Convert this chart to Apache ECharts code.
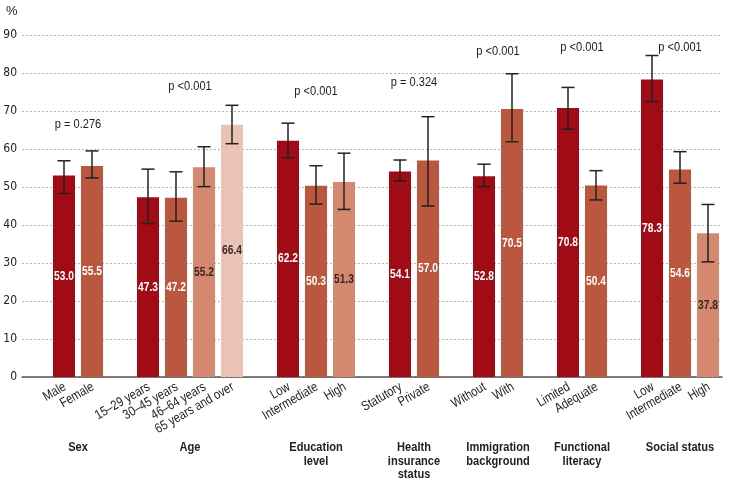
<!DOCTYPE html>
<html>
<head>
<meta charset="utf-8">
<script src="https://cdn.jsdelivr.net/npm/echarts@6/dist/echarts.min.js"></script>
<style>html,body{margin:0;padding:0;background:#fff}#c{width:731px;height:485px}</style>
</head>
<body>
<div id="c"></div>
<script>
const groupNames = ['Sex', 'Age', 'Education\nlevel', 'Health\ninsurance\nstatus', 'Immigration\nbackground', 'Functional\nliteracy', 'Social status'];
const groupSizes = [2, 4, 3, 2, 2, 2, 3];
const pValues = ['p = 0.276', 'p <0.001', 'p <0.001', 'p = 0.324', 'p <0.001', 'p <0.001', 'p <0.001'];
const categories = ['Male', 'Female', '15–29 years', '30–45 years', '46–64 years', '65 years and over', 'Low', 'Intermediate', 'High', 'Statutory', 'Private', 'Without', 'With', 'Limited', 'Adequate', 'Low', 'Intermediate', 'High'];
const values = [53.0, 55.5, 47.3, 47.2, 55.2, 66.4, 62.2, 50.3, 51.3, 54.1, 57.0, 52.8, 70.5, 70.8, 50.4, 78.3, 54.6, 37.8];
const ciLow = [48.3, 52.4, 40.4, 41.0, 50.1, 61.4, 57.7, 45.5, 44.1, 51.6, 45.0, 50.1, 61.9, 65.2, 46.6, 72.5, 51.0, 30.3];
const ciHigh = [56.9, 59.5, 54.7, 54.0, 60.6, 71.5, 66.8, 55.6, 58.9, 57.1, 68.5, 56.0, 79.8, 76.2, 54.3, 84.6, 59.3, 45.4];
const yTicks = [0, 10, 20, 30, 40, 50, 60, 70, 80, 90];

// layout / style constants
const pLabelLevel = [66.6, 76.4, 75.3, 77.6, 85.6, 86.8, 86.8];
const shadeColors = ['#a00b16', '#bb563f', '#d3886f', '#ebc3b4'];
const shadeText = ['#ffffff', '#ffffff', '#3b2626', '#3b2626'];
const FONT = '"Liberation Sans", Arial, sans-serif';
const NARROW = 0.82;

// build axis with blank separator slots
const axisCats = [''];
const barData = ['-'];
const errData = [];
const valLabelData = [];
const xLabelData = [];
const groupSlots = [];
let k = 0;
groupSizes.forEach((n, g) => {
  if (g > 0) { axisCats.push(''); barData.push('-'); }
  const slots = [];
  for (let i = 0; i < n; i++) {
    const idx = axisCats.length;
    axisCats.push(categories[k]);
    barData.push({ value: values[k], itemStyle: { color: shadeColors[i] } });
    errData.push([idx, ciLow[k], ciHigh[k]]);
    valLabelData.push([idx, values[k], i]);
    xLabelData.push([idx, k]);
    slots.push(idx);
    k++;
  }
  groupSlots.push(slots);
});

const chart = echarts.init(document.getElementById('c'), null, { renderer: 'canvas' });
chart.setOption({
  animation: false,
  grid: { left: 22, right: 9, top: 35, bottom: 108, containLabel: false },
  xAxis: {
    type: 'category',
    data: axisCats,
    axisTick: { show: false },
    axisLine: { lineStyle: { color: '#555', width: 1.5 } },
    axisLabel: { show: false }
  },
  yAxis: {
    type: 'value', min: yTicks[0], max: yTicks[yTicks.length - 1], interval: 10,
    axisLine: { show: false }, axisTick: { show: false },
    axisLabel: { fontFamily: '"DejaVu Sans Condensed", "Liberation Sans", sans-serif', fontSize: 12, color: '#222', margin: 5 },
    splitLine: { lineStyle: { color: '#b5b5b5', type: [2, 2], width: 1 } }
  },
  series: [
    { type: 'bar', data: barData, barWidth: 22 },
    {
      type: 'custom', data: errData, z: 5,
      renderItem: function (params, api) {
        const x = api.value(0);
        const lo = api.coord([x, api.value(1)]);
        const hi = api.coord([x, api.value(2)]);
        const w = 6.5;
        const st = { stroke: '#222', lineWidth: 1.5 };
        return {
          type: 'group', children: [
            { type: 'line', shape: { x1: lo[0], y1: lo[1], x2: hi[0], y2: hi[1] }, style: st },
            { type: 'line', shape: { x1: lo[0] - w, y1: lo[1], x2: lo[0] + w, y2: lo[1] }, style: st },
            { type: 'line', shape: { x1: hi[0] - w, y1: hi[1], x2: hi[0] + w, y2: hi[1] }, style: st }
          ]
        };
      }
    },
    {
      type: 'custom', data: valLabelData, z: 6,
      renderItem: function (params, api) {
        const v = api.value(1);
        const p = api.coord([api.value(0), v / 2]);
        return {
          type: 'text', x: p[0], y: p[1], scaleX: NARROW,
          style: {
            text: v.toFixed(1), textAlign: 'center', textVerticalAlign: 'middle',
            fontFamily: FONT, fontWeight: 'bold', fontSize: 12.5, fill: shadeText[api.value(2)]
          }
        };
      }
    },
    {
      type: 'custom', data: xLabelData, z: 6, clip: false,
      renderItem: function (params, api) {
        const p = api.coord([api.value(0), 0]);
        return {
          type: 'text', x: p[0] + 1, y: p[1] + 9, rotation: Math.PI / 6, scaleX: NARROW,
          style: {
            text: categories[api.value(1)], textAlign: 'right', textVerticalAlign: 'middle',
            fontFamily: FONT, fontSize: 13.5, fill: '#222'
          }
        };
      }
    }
  ]
});

const graphics = [{
  type: 'text', left: 6, top: 5,
  style: { text: '%', fontFamily: FONT, fontSize: 13, fill: '#222' }
}];
groupSlots.forEach((slots, g) => {
  const x0 = chart.convertToPixel({ xAxisIndex: 0 }, slots[0]);
  const x1 = chart.convertToPixel({ xAxisIndex: 0 }, slots[slots.length - 1]);
  const cx = (x0 + x1) / 2;
  const py = chart.convertToPixel({ yAxisIndex: 0 }, pLabelLevel[g]);
  graphics.push({
    type: 'text', x: cx, y: py, scaleX: NARROW,
    style: { text: pValues[g], textAlign: 'center', textVerticalAlign: 'middle', fontFamily: FONT, fontSize: 13.5, fill: '#222' }
  });
  graphics.push({
    type: 'text', x: cx, y: 441, scaleX: NARROW,
    style: { text: groupNames[g], textAlign: 'center', textVerticalAlign: 'top', fontFamily: FONT, fontSize: 13.5, fontWeight: 'bold', lineHeight: 13.5, fill: '#222' }
  });
});
chart.setOption({ graphic: graphics });
</script>
</body>
</html>
